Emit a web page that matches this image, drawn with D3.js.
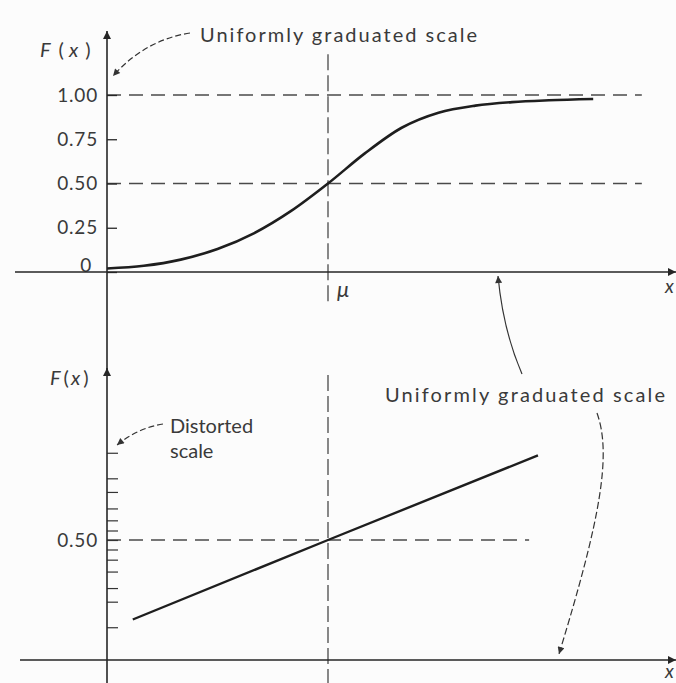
<!DOCTYPE html>
<html>
<head>
<meta charset="utf-8">
<script src="https://cdnjs.cloudflare.com/ajax/libs/d3/7.8.5/d3.min.js"></script>
<style>
  body { margin: 0; background: #fcfcfc; }
  svg { display: block; }
  text { font-family: Lato, "Open Sans", sans-serif; fill: #3a3a3a; }
</style>
</head>
<body>
<svg id="chart" width="676" height="683"></svg>
<script>
// Normal CDF drawn on a uniform scale (top) and on a probability scale (bottom)

// top panel: x in standard units (mu = 0), F
var topX = [-3, -2.5, -2, -1.5, -1, -0.5, 0, 0.5, 1, 1.5, 2, 2.5, 3, 3.6];
var topF = [0.02, 0.035, 0.07, 0.13, 0.22, 0.345, 0.5, 0.67, 0.815, 0.9, 0.94, 0.96, 0.97, 0.977];
var topTicks = [0, 0.25, 0.5, 0.75, 1];
var topTickLabels = ["0", "0.25", "0.50", "0.75", "1.00"];
var topGuides = [0.5, 1];

// bottom panel: same curve on the distorted (probability) scale
var botX = [-2.65, 0, 2.85];
var botF = [0.017, 0.5, 0.988];
var botTicks = [0.01, 0.05, 0.1, 0.2, 0.3, 0.4, 0.5, 0.6, 0.7, 0.8, 0.9, 0.95, 0.99];
var botGuides = [0.5];

var texts = {
  uniform: "Uniformly graduated scale",
  distorted: ["Distorted", "scale"],
  mu: "\u03BC"
};

// inverse normal cdf (Acklam) - used only to build the distorted axis
function probit(p) {
  var a = [-39.69683028665376, 220.9460984245205, -275.9285104469687, 138.357751867269, -30.66479806614716, 2.506628277459239];
  var b = [-54.47609879822406, 161.5858368580409, -155.6989798598866, 66.80131188771972, -13.28068155288572];
  var c = [-0.007784894002430293, -0.3223964580411365, -2.400758277161838, -2.549732539343734, 4.374664141464968, 2.938163982698783];
  var d = [0.007784695709041462, 0.3224671290700398, 2.445134137142996, 3.754408661907416];
  var q, r;
  if (p < 0.02425) {
    q = Math.sqrt(-2 * Math.log(p));
    return (((((c[0]*q+c[1])*q+c[2])*q+c[3])*q+c[4])*q+c[5]) / ((((d[0]*q+d[1])*q+d[2])*q+d[3])*q+1);
  }
  if (p > 1 - 0.02425) {
    q = Math.sqrt(-2 * Math.log(1 - p));
    return -(((((c[0]*q+c[1])*q+c[2])*q+c[3])*q+c[4])*q+c[5]) / ((((d[0]*q+d[1])*q+d[2])*q+d[3])*q+1);
  }
  q = p - 0.5; r = q * q;
  return (((((a[0]*r+a[1])*r+a[2])*r+a[3])*r+a[4])*r+a[5])*q / (((((b[0]*r+b[1])*r+b[2])*r+b[3])*r+b[4])*r+1);
}

var svg = d3.select("#chart");
var ink = "#262626", dashInk = "#4a4a4a";

var xScale = d3.scaleLinear().domain([-3, 0]).range([107, 328]);
var yTop = d3.scaleLinear().domain([0, 1]).range([272, 95]);
var zBot = d3.scaleLinear().domain([0, 1]).range([540, 502.5]);   // in probit units
var yBot = function(p) { return zBot(probit(p)); };

// arrow heads
var defs = svg.append("defs");
defs.append("marker")
    .attr("id", "head")
    .attr("viewBox", "0 0 10 10")
    .attr("refX", 10).attr("refY", 5)
    .attr("markerUnits", "userSpaceOnUse")
    .attr("markerWidth", 11).attr("markerHeight", 8)
    .attr("orient", "auto")
  .append("path")
    .attr("d", "M0,0 L10,5 L0,10 z")
    .attr("fill", ink);
defs.append("marker")
    .attr("id", "headSmall")
    .attr("viewBox", "0 0 10 10")
    .attr("refX", 10).attr("refY", 5)
    .attr("markerUnits", "userSpaceOnUse")
    .attr("markerWidth", 10).attr("markerHeight", 7)
    .attr("orient", "auto")
  .append("path")
    .attr("d", "M0,0 L10,5 L0,10 z")
    .attr("fill", "#333");

// ---------- TOP PANEL ----------
var topG = svg.append("g");

// guide lines
topG.selectAll(".guide")
  .data(topGuides)
  .enter().append("line")
    .attr("x1", xScale(-3)).attr("x2", xScale(4.26))
    .attr("y1", function(d) { return yTop(d); })
    .attr("y2", function(d) { return yTop(d); })
    .attr("stroke", dashInk).attr("stroke-width", 1.3)
    .attr("stroke-dasharray", "14,8");

topG.append("line")
    .attr("x1", xScale(0)).attr("x2", xScale(0))
    .attr("y1", yTop(1.23)).attr("y2", yTop(-0.17))
    .attr("stroke", dashInk).attr("stroke-width", 1.3)
    .attr("stroke-dasharray", "16,5");

// y axis ticks + labels
topG.append("g")
    .attr("transform", "translate(" + xScale(-3) + ",0)")
    .call(d3.axisLeft(yTop)
      .tickValues(topTicks)
      .tickSize(-10)
      .tickPadding(9)
      .tickFormat(function(d, i) { return topTickLabels[i]; }))
    .call(function(g) {
      g.select(".domain").remove();
      g.selectAll(".tick line").attr("stroke", ink).attr("stroke-width", 1.3);
      g.selectAll(".tick text")
        .attr("font-size", 19).attr("font-family", "Lato, sans-serif")
        .attr("fill", "#3a3a3a").attr("letter-spacing", 0.8);
      g.selectAll(".tick").filter(function(d) { return d === 0; })
        .select("text").attr("dy", "-0.05em").attr("x", -15);
    });

// axes
topG.append("line")
    .attr("x1", 15).attr("x2", 676)
    .attr("y1", yTop(0)).attr("y2", yTop(0))
    .attr("stroke", ink).attr("stroke-width", 1.6)
    .attr("marker-end", "url(#head)");
topG.append("line")
    .attr("x1", xScale(-3)).attr("x2", xScale(-3))
    .attr("y1", 370).attr("y2", 31)
    .attr("stroke", ink).attr("stroke-width", 1.6)
    .attr("marker-end", "url(#head)");

// curve
var topLine = d3.line()
    .x(function(d) { return xScale(d[0]); })
    .y(function(d) { return yTop(d[1]); })
    .curve(d3.curveMonotoneX);
topG.append("path")
    .datum(d3.zip(topX, topF))
    .attr("d", topLine)
    .attr("fill", "none")
    .attr("stroke", "#1e1e1e")
    .attr("stroke-width", 2.6);

// labels
function fxLabel(g, x, y, gap) {
  var t = g.append("text").attr("x", x).attr("y", y).attr("font-size", 20);
  t.append("tspan").attr("font-style", "italic").text("F");
  t.append("tspan").attr("dx", gap[0]).text("(");
  t.append("tspan").attr("dx", gap[1]).attr("font-style", "italic").text("x");
  t.append("tspan").attr("dx", gap[2]).text(")");
}
fxLabel(topG, 40, 57, [8, 5, 7]);

topG.append("text")
    .attr("x", xScale(0) + 9).attr("y", 297)
    .attr("font-size", 22).attr("font-style", "italic")
    .text(texts.mu);
topG.append("text")
    .attr("x", 665).attr("y", 293)
    .attr("font-size", 19).attr("font-style", "italic")
    .text("x");

topG.append("text")
    .attr("x", 200).attr("y", 42)
    .attr("font-size", 20)
    .attr("textLength", 277).attr("lengthAdjust", "spacing")
    .text(texts.uniform);

// ---------- BOTTOM PANEL ----------
var botG = svg.append("g");

botG.selectAll(".guide")
  .data(botGuides)
  .enter().append("line")
    .attr("x1", xScale(-3)).attr("x2", xScale(2.73))
    .attr("y1", function(d) { return yBot(d); })
    .attr("y2", function(d) { return yBot(d); })
    .attr("stroke", dashInk).attr("stroke-width", 1.3)
    .attr("stroke-dasharray", "14,8");

botG.append("line")
    .attr("x1", xScale(0)).attr("x2", xScale(0))
    .attr("y1", 375).attr("y2", 683)
    .attr("stroke", dashInk).attr("stroke-width", 1.3)
    .attr("stroke-dasharray", "16,5");

botG.append("g")
    .attr("transform", "translate(" + xScale(-3) + ",0)")
    .call(d3.axisLeft(zBot)
      .tickValues(botTicks.map(probit))
      .tickSize(-11)
      .tickPadding(9)
      .tickFormat(function(d, i) { return botTicks[i] === 0.5 ? "0.50" : ""; }))
    .call(function(g) {
      g.select(".domain").remove();
      g.selectAll(".tick line").attr("stroke", "#333").attr("stroke-width", 1.2);
      g.selectAll(".tick text")
        .attr("font-size", 19).attr("font-family", "Lato, sans-serif")
        .attr("fill", "#3a3a3a").attr("letter-spacing", 0.8);
    });

botG.append("line")
    .attr("x1", 20).attr("x2", 676)
    .attr("y1", 660).attr("y2", 660)
    .attr("stroke", ink).attr("stroke-width", 1.6)
    .attr("marker-end", "url(#head)");
botG.append("line")
    .attr("x1", xScale(-3)).attr("x2", xScale(-3))
    .attr("y1", 683).attr("y2", 368)
    .attr("stroke", ink).attr("stroke-width", 1.6)
    .attr("marker-end", "url(#head)");

var botLine = d3.line()
    .x(function(d) { return xScale(d[0]); })
    .y(function(d) { return yBot(d[1]); });
botG.append("path")
    .datum(d3.zip(botX, botF))
    .attr("d", botLine)
    .attr("fill", "none")
    .attr("stroke", "#1e1e1e")
    .attr("stroke-width", 2.4);

fxLabel(botG, 50, 385, [3, 2, 3]);
botG.append("text")
    .attr("x", 665).attr("y", 678)
    .attr("font-size", 19).attr("font-style", "italic")
    .text("x");

botG.append("text")
    .attr("x", 385).attr("y", 402)
    .attr("font-size", 20)
    .attr("textLength", 280).attr("lengthAdjust", "spacing")
    .text(texts.uniform);

botG.selectAll(".dist")
  .data(texts.distorted)
  .enter().append("text")
    .attr("x", 170)
    .attr("y", function(d, i) { return 433 + i * 25; })
    .attr("font-size", 20)
    .text(function(d) { return d; });

// ---------- annotation arrows ----------
var notes = [
  { d: "M190,33 Q145,40 113,76", dash: "6,3" },
  { d: "M163,424 Q138,428 117,445", dash: "6,3" },
  { d: "M522,374 Q503,330 498,276", dash: null },
  { d: "M597,413 C612,455 600,520 559,654", dash: "7,3" }
];
svg.selectAll(".note")
  .data(notes)
  .enter().append("path")
    .attr("d", function(d) { return d.d; })
    .attr("fill", "none")
    .attr("stroke", "#333")
    .attr("stroke-width", 1.2)
    .attr("stroke-dasharray", function(d) { return d.dash; })
    .attr("marker-end", "url(#headSmall)");
</script>
</body>
</html>
